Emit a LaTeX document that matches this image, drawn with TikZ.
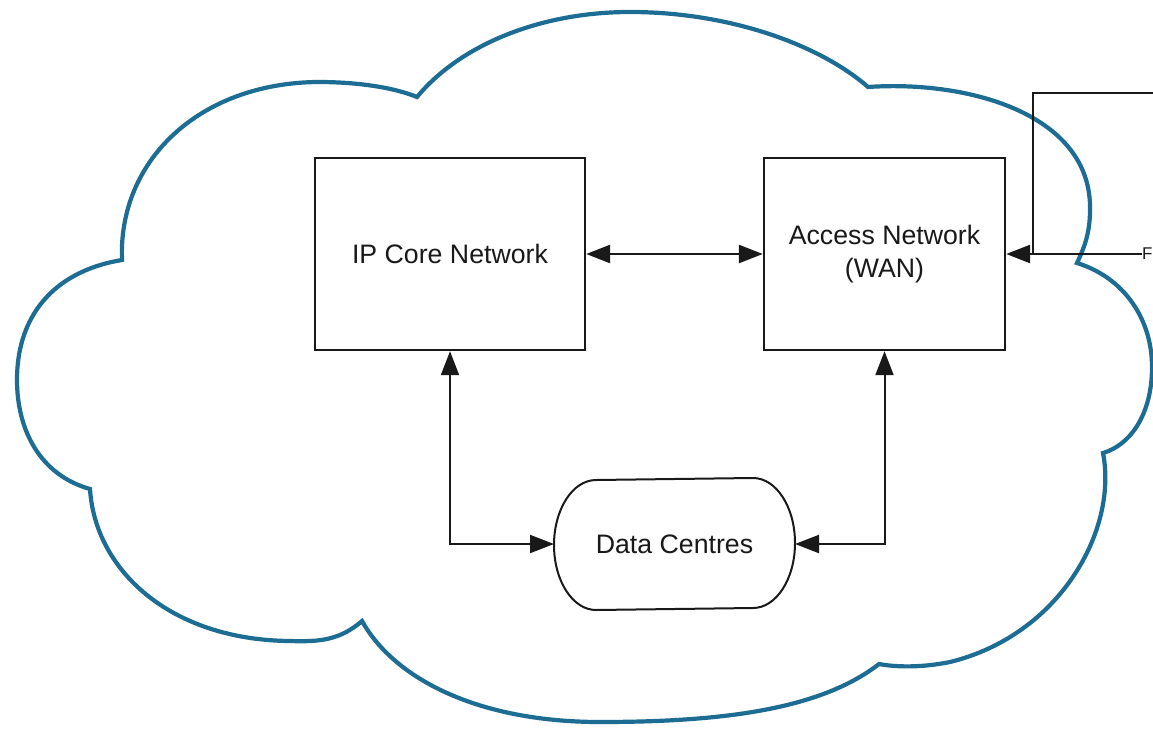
\documentclass[tikz,border=0pt]{standalone}
\usepackage{fontspec}
\setmainfont{Liberation Sans}
\usetikzlibrary{arrows.meta}
\definecolor{cloudblue}{RGB}{28,108,148}
\definecolor{ink}{RGB}{25,25,25}
\begin{document}
\begin{tikzpicture}[x=1pt,y=-1pt,
  >={Triangle[length=24pt,width=18pt]},
  cloud/.style={draw=cloudblue, line width=4.2pt, line join=miter, miter limit=3},
  box/.style={draw=ink, line width=2.4pt, fill=white, inner sep=0pt},
  lbl/.style={font=\fontsize{26.7}{33}\selectfont, text=ink, align=center},
  link/.style={draw=ink, line width=2.6pt},
  thinlink/.style={draw=ink, line width=2pt},
  dcbox/.style={line width=2pt, inner sep=0pt, minimum width=239pt, minimum height=130pt}
]
\clip (0,0) rectangle (1153,728);
\fill[white] (0,0) rectangle (1153,728);

% cloud outline
\draw[cloud]
  (122,260) .. controls (118,160) and (200,83) .. (318,82)
            .. controls (360,82) and (395,88) .. (417,97)
            .. controls (460,45) and (540,12) .. (630,12)
            .. controls (730,12) and (820,45) .. (868,87)
            .. controls (970,80) and (1092,115) .. (1090,210)
            .. controls (1090,235) and (1083,250) .. (1077,263)
            .. controls (1125,278) and (1152,320) .. (1152,367)
            .. controls (1152,415) and (1130,445) .. (1103,453)
            .. controls (1118,530) and (1060,635) .. (950,662)
            .. controls (920,668) and (895,667) .. (879,664)
            .. controls (820,710) and (720,722) .. (600,722)
            .. controls (480,722) and (395,680) .. (362,621)
            .. controls (340,640) and (320,642) .. (290,641)
            .. controls (170,640) and (95,570) .. (90,489)
            .. controls (40,475) and (17,430) .. (17,380)
            .. controls (17,310) and (60,270) .. (122,260)
  -- cycle;

% nodes
\node[box, lbl, minimum width=270pt, minimum height=192pt] (ip) at (450,254) {IP Core Network};
\node[box, lbl, minimum width=241pt, minimum height=192pt] (acc) at (884.5,254) {Access Network\\(WAN)};
\node[dcbox, lbl] (dc) at (674.5,544) {Data Centres};
\draw[ink, line width=2pt]
  ([xshift=-42pt]dc.north east) arc[start angle=90, end angle=-90, x radius=42pt, y radius=65pt]
  -- ([xshift=42pt]dc.south west) arc[start angle=270, end angle=90, x radius=42pt, y radius=65pt]
  -- cycle;
\node[anchor=west, inner sep=0pt, font=\fontsize{17}{20}\selectfont, text=ink] (f) at (1142,254) {F};
\coordinate (src) at (1190,93);
\coordinate (jn) at (1033,254);

% connectors
\draw[link, <->] (ip) -- (acc);
\draw[thinlink, <->] (ip.south) |- (dc.west);
\draw[thinlink, <->] (acc.south) |- (dc.east);
\draw[link, ->] (f.west) -- (acc.east);
\draw[link] (src) -| (jn);
\end{tikzpicture}
\end{document}
